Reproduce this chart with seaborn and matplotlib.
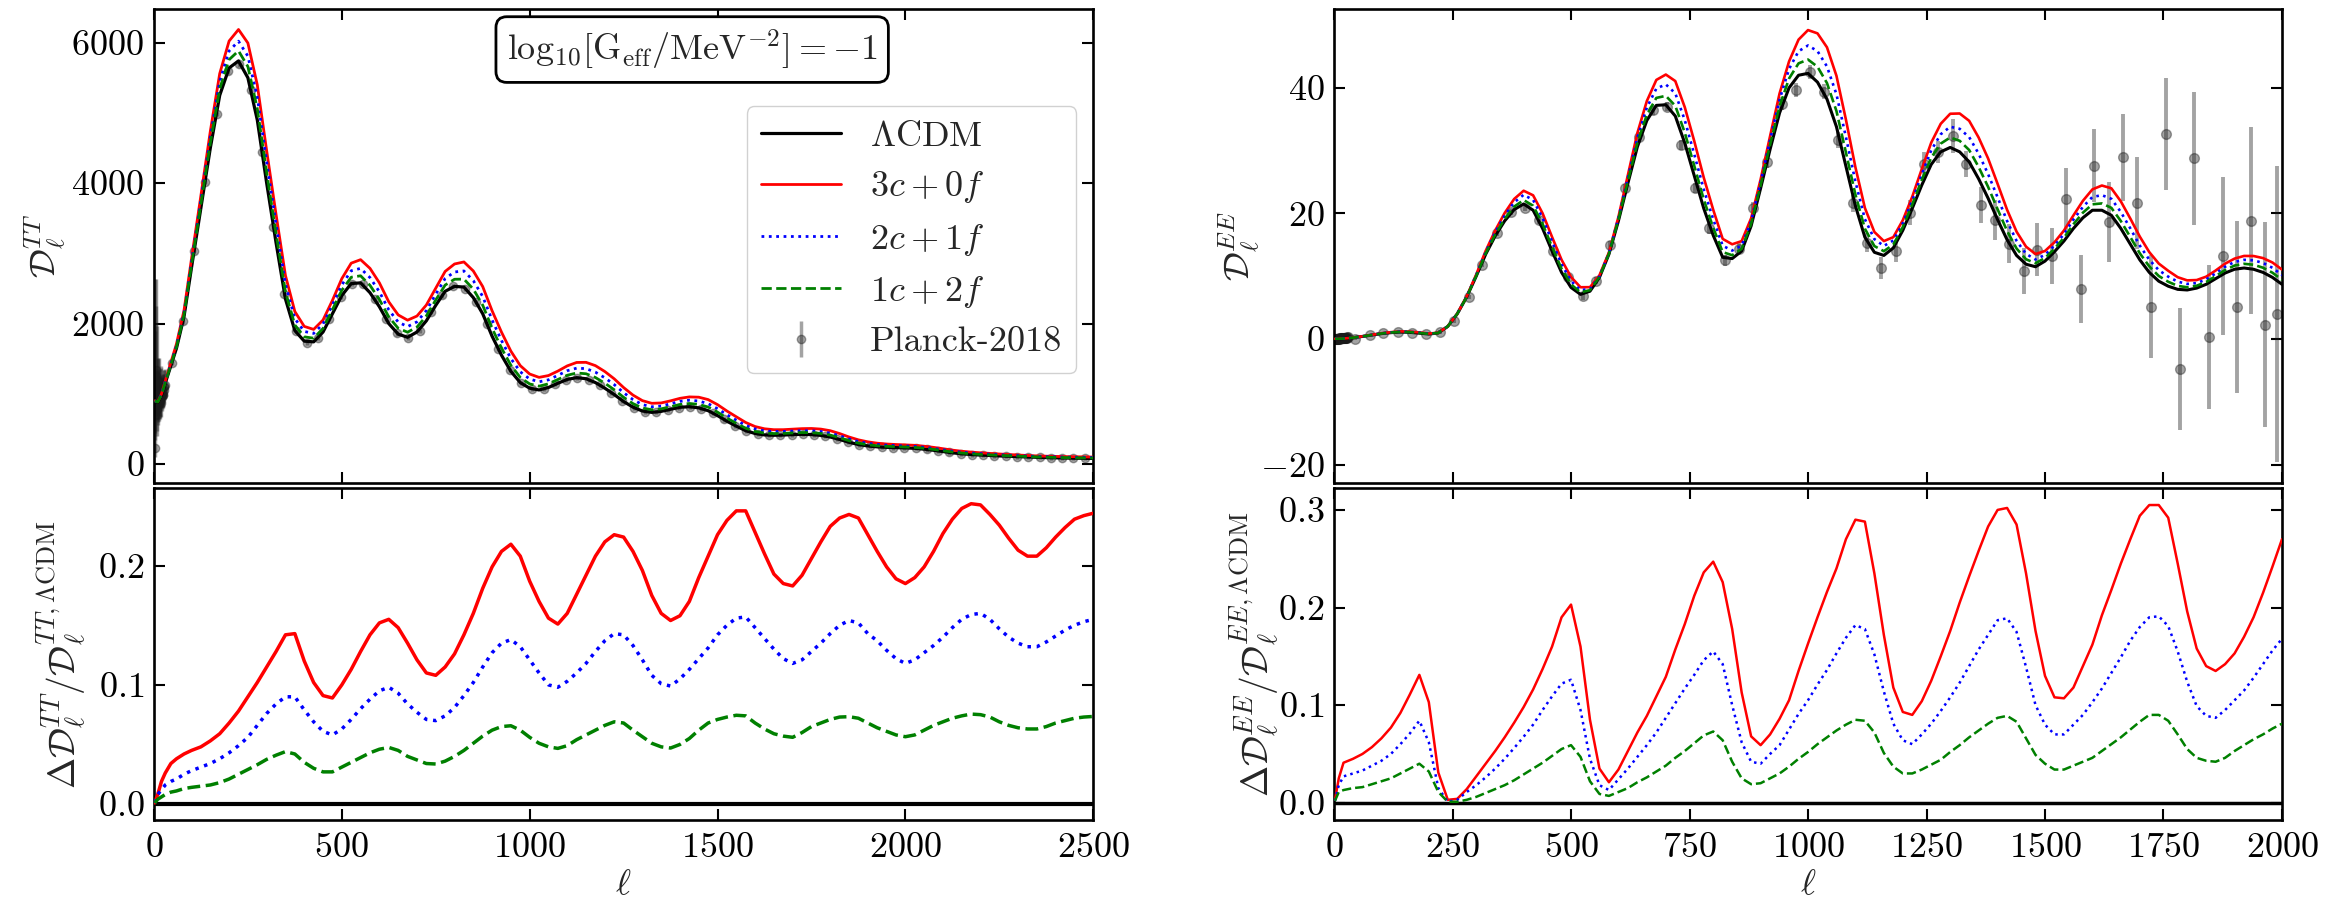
import numpy as np
import matplotlib
matplotlib.use("Agg")
import matplotlib.pyplot as plt
import seaborn as sns

# ---------------- TT spectrum (multipole grid) ----------------
tt_ell = [2, 10, 20, 30, 45, 60, 80,
          100, 125, 150, 175, 200, 225, 250, 275, 300, 325, 350, 375, 400, 425, 450, 475,
          500, 525, 550, 575, 600, 625, 650, 675, 700, 725, 750, 775, 800, 825, 850, 875, 900, 925, 950, 975,
          1000, 1025, 1050, 1075, 1100, 1125, 1150, 1175, 1200, 1225, 1250, 1275, 1300, 1325, 1350, 1375, 1400, 1425, 1450, 1475,
          1500, 1525, 1550, 1575, 1600, 1625, 1650, 1675, 1700, 1725, 1750, 1775, 1800, 1825, 1850, 1875, 1900, 1925, 1950, 1975,
          2000, 2025, 2050, 2075, 2100, 2125, 2150, 2175, 2200, 2225, 2250, 2275, 2300, 2325, 2350, 2375, 2400, 2425, 2450, 2475,
          2500]

tt_lcdm = [900, 880, 980, 1150, 1400, 1650, 2100,
           2800, 3650, 4500, 5250, 5640, 5740, 5500, 4900, 4000, 3150, 2350, 1900, 1750, 1740, 1880, 2140,
           2400, 2570, 2580, 2440, 2240, 2000, 1850, 1805, 1880, 2040, 2260, 2460, 2530, 2520, 2370, 2140, 1820, 1550, 1320, 1160,
           1080, 1055, 1090, 1150, 1205, 1230, 1215, 1160, 1080, 990, 890, 810, 755, 736, 750, 780, 808, 817, 800, 760,
           690, 610, 540, 475, 435, 415, 410, 413, 420, 423, 420, 408, 385, 350, 310, 278, 258, 245, 238, 234,
           230, 224, 212, 196, 178, 160, 146, 136, 128, 122, 116, 111, 106, 101, 96, 92, 89, 86, 84, 82,
           80]

# relative difference w.r.t. LCDM (lower left panel)
tt_rel_3c0f = [.001, .008, .019, .026, .034, .038, .042,
               .045, .048, .053, .059, .068, .078, .090, .102, .115, .128, .142, .143, .120, .102, .091, .089,
               .100, .113, .128, .142, .152, .155, .148, .135, .121, .110, .108, .115, .126, .142, .160, .181, .199, .212, .218, .208,
               .187, .170, .156, .151, .160, .176, .192, .208, .220, .226, .224, .212, .196, .175, .160, .154, .158, .170, .190, .208,
               .226, .238, .246, .246, .228, .210, .193, .185, .183, .192, .206, .220, .233, .240, .243, .240, .226, .212, .199, .189,
               .185, .190, .199, .212, .227, .239, .248, .252, .251, .243, .234, .223, .213, .208, .208, .215, .224, .232, .239, .242,
               .244]
tt_rel_2c1f = [.001, .008, .012, .016, .019, .021, .025,
               .028, .031, .034, .038, .043, .049, .056, .066, .076, .084, .090, .090, .079, .069, .061, .058,
               .063, .071, .080, .088, .095, .098, .093, .084, .077, .071, .070, .074, .081, .091, .102, .115, .127, .135, .138, .132,
               .121, .110, .100, .098, .103, .110, .118, .128, .137, .143, .142, .133, .121, .108, .101, .099, .105, .113, .122, .131,
               .142, .150, .156, .157, .148, .139, .130, .122, .118, .121, .128, .135, .143, .150, .154, .152, .143, .137, .129, .122,
               .118, .121, .127, .133, .140, .148, .155, .159, .160, .155, .147, .140, .135, .132, .132, .136, .141, .146, .150, .153,
               .155]
tt_rel_1c2f = [.001, .004, .006, .008, .010, .011, .013,
               .014, .015, .016, .018, .021, .025, .029, .033, .0375, .041, .044, .042, .035, .030, .027, .027,
               .031, .035, .039, .043, .046, .0475, .045, .040, .037, .034, .0336, .036, .040, .045, .051, .057, .062, .065, .0657, .062,
               .056, .051, .048, .0467, .049, .054, .058, .062, .066, .069, .068, .062, .0565, .051, .048, .047, .050, .055, .062, .068,
               .071, .073, .0745, .074, .068, .063, .059, .057, .056, .060, .065, .068, .071, .073, .0733, .072, .068, .064, .061, .058,
               .0565, .058, .062, .066, .069, .072, .074, .0755, .075, .073, .069, .066, .064, .063, .063, .065, .068, .070, .072, .073,
               .0735]

# Planck-2018 TT: unbinned low-l and binned high-l points
tt_low_ell = [2, 3, 4, 5, 6, 7, 8, 9, 10, 11, 12, 13, 14, 15, 16, 17, 18, 19, 20, 21, 22, 23, 24, 25, 26, 27, 28, 29]
tt_low_val = [226, 937, 693, 1336, 1250, 1120, 700, 790, 950, 860, 1020, 880, 1080, 880, 980, 920, 1050, 870, 1060, 990,
              950, 980, 1030, 980, 1100, 1050, 1110, 1130]
tt_low_lo = [130, 500, 350, 650, 550, 480, 300, 320, 350, 300, 320, 270, 300, 240, 250, 230, 240, 200, 220, 200,
             190, 185, 180, 170, 175, 165, 160, 160]
tt_low_hi = [1100, 1700, 1200, 1300, 1000, 850, 600, 560, 560, 480, 470, 420, 430, 360, 370, 340, 340, 290, 310, 280,
             270, 260, 255, 240, 245, 230, 225, 225]

tt_bin_ell = [47, 77, 107, 137, 167, 197, 227, 257, 287, 317, 347, 377, 407, 437, 467, 497, 527, 557, 587, 617,
              647, 677, 707, 737, 767, 797, 827, 857, 887, 917, 947, 977, 1007, 1037, 1067, 1097, 1127, 1157, 1187, 1217,
              1247, 1277, 1307, 1337, 1367, 1397, 1427, 1457, 1487, 1517, 1547, 1577, 1607, 1637, 1667, 1697, 1727, 1757, 1787, 1817,
              1847, 1877, 1907, 1937, 1967, 1997, 2027, 2057, 2087, 2117, 2147, 2177, 2207, 2237, 2267, 2297, 2327, 2357, 2387, 2417,
              2447, 2477]
tt_bin_val = [1440, 2030, 3030, 4020, 4990, 5590, 5690, 5320, 4450, 3380, 2420, 1890, 1720, 1800, 2060, 2380, 2570, 2560, 2350, 2060,
              1860, 1800, 1900, 2170, 2400, 2530, 2490, 2310, 2000, 1640, 1340, 1150, 1065, 1070, 1140, 1200, 1230, 1200, 1120, 1010,
              900, 805, 748, 740, 770, 805, 815, 790, 725, 635, 545, 470, 430, 412, 412, 420, 423, 418, 398, 360,
              315, 276, 255, 241, 235, 230, 223, 208, 187, 165, 147, 135, 126, 119, 112, 106, 100, 95, 90, 87,
              84, 82]
tt_bin_err = 30

# ---------------- EE spectrum ----------------
ee_ell = [2, 10, 20,
          40, 60, 80, 100, 120, 140, 160, 180, 200, 220,
          240, 260, 280, 300, 320, 340, 360, 380, 400, 420,
          440, 460, 480, 500, 520, 540, 560, 580, 600, 620,
          640, 660, 680, 700, 720, 740, 760, 780, 800, 820,
          840, 860, 880, 900, 920, 940, 960, 980, 1000, 1020,
          1040, 1060, 1080, 1100, 1120, 1140, 1160, 1180, 1200, 1220,
          1240, 1260, 1280, 1300, 1320, 1340, 1360, 1380, 1400, 1420,
          1440, 1460, 1480, 1500, 1520, 1540, 1560, 1580, 1600, 1620,
          1640, 1660, 1680, 1700, 1720, 1740, 1760, 1780, 1800, 1820,
          1840, 1860, 1880, 1900, 1920, 1940, 1960, 1980, 2000]

ee_lcdm = [0.03, 0.03, 0.06,
           0.2, 0.4, 0.62, 0.85, 1.0, 1.1, 1.05, 0.92, 0.78, 0.95,
           2.0, 4.0, 6.7, 10.0, 13.5, 16.4, 18.8, 20.6, 21.5, 20.5,
           17.6, 14.0, 10.6, 8.2, 7.1, 7.6, 9.8, 13.5, 18.8, 24.8,
           30.6, 34.8, 37.2, 37.3, 35.5, 31.2, 26.0, 20.8, 16.5, 13.0,
           12.8, 14.0, 18.0, 24.0, 30.2, 36.0, 40.0, 42.0, 42.3, 40.9,
           38.2, 33.8, 27.5, 21.2, 16.2, 13.8, 13.3, 14.5, 17.3, 20.8,
           24.5, 27.8, 29.8, 30.5, 29.8, 28.2, 25.5, 22.4, 19.0, 15.8,
           13.3, 11.9, 11.5, 12.4, 13.9, 15.6, 17.6, 19.3, 20.5, 20.5,
           19.7, 17.6, 15.1, 12.6, 10.6, 9.2, 8.4, 7.9, 7.8, 8.1,
           8.7, 9.6, 10.5, 11.1, 11.3, 11.1, 10.6, 9.8, 8.7]

ee_rel_3c0f = [.003, .025, .041,
               .045, .050, .057, .066, .077, .092, .111, .131, .103, .031,
               .003, .004, .014, .027, .040, .053, .067, .082, .098, .116,
               .137, .160, .190, .203, .160, .085, .035, .021, .034, .053,
               .072, .089, .109, .129, .157, .183, .212, .236, .247, .226,
               .178, .113, .068, .059, .070, .086, .105, .135, .163, .190,
               .216, .240, .270, .290, .288, .235, .172, .118, .093, .090,
               .104, .125, .150, .176, .205, .232, .258, .283, .300, .302,
               .285, .235, .176, .130, .108, .107, .118, .140, .162, .192,
               .218, .245, .270, .294, .305, .305, .292, .245, .196, .158,
               .140, .135, .142, .153, .170, .190, .215, .242, .270]
ee_rel_2c1f = [.002, .018, .027,
               .030, .033, .038, .043, .050, .060, .071, .084, .062, .015,
               .001, .003, .011, .018, .026, .035, .045, .056, .0676, .080,
               .095, .109, .122, .126, .095, .045, .018, .013, .024, .035,
               .047, .059, .072, .087, .102, .117, .131, .146, .155, .142,
               .100, .062, .042, .040, .050, .059, .075, .091, .105, .121,
               .136, .153, .169, .182, .178, .152, .114, .081, .064, .060,
               .070, .081, .094, .108, .123, .140, .157, .172, .187, .189,
               .175, .139, .100, .080, .070, .070, .080, .090, .103, .117,
               .133, .149, .166, .180, .190, .191, .181, .155, .124, .099,
               .089, .087, .095, .105, .115, .128, .142, .156, .168]
ee_rel_1c2f = [.002, .011, .013,
               .015, .016, .019, .022, .025, .030, .035, .040, .032, .011,
               .001, .001, .003, .006, .010, .014, .018, .023, .029, .035,
               .041, .048, .055, .059, .047, .022, .009, .007, .011, .015,
               .021, .026, .032, .038, .046, .053, .061, .069, .073, .064,
               .042, .025, .019, .020, .025, .030, .037, .045, .052, .060,
               .067, .074, .080, .085, .084, .072, .051, .037, .030, .030,
               .034, .039, .044, .052, .059, .067, .074, .081, .087, .089,
               .083, .066, .049, .040, .034, .034, .038, .042, .046, .053,
               .060, .067, .075, .083, .090, .090, .084, .070, .055, .046,
               .043, .042, .046, .053, .059, .065, .070, .076, .081]

# Planck-2018 EE
ee_low_ell = [2, 3, 4, 5, 6, 7, 8, 9, 10, 11, 12, 13, 14, 15, 16, 17, 18, 19, 20, 21, 22, 23, 24, 25, 26, 27, 28, 29]
ee_low_val = [0.03, 0.01, 0.02, 0.05, 0.0, 0.04, 0.02, 0.06, 0.03, 0.08, 0.1, 0.05, 0.12, 0.08, 0.1, 0.15, 0.12, 0.1,
              0.18, 0.15, 0.2, 0.12, 0.2, 0.18, 0.22, 0.25, 0.2, 0.28]
ee_low_err = [0.05, 0.05, 0.05, 0.06, 0.06, 0.07, 0.08, 0.09, 0.1, 0.1, 0.12, 0.12, 0.14, 0.14, 0.15, 0.16, 0.17, 0.18,
              0.2, 0.2, 0.22, 0.22, 0.24, 0.25, 0.26, 0.27, 0.28, 0.3]

ee_bin_ell = [44, 75, 104, 134, 164, 194, 224, 253, 284, 313, 344, 374, 403, 433, 463, 493, 525, 553, 583, 613,
              643, 673, 703, 731, 761, 792, 824, 854, 884, 914, 946, 975, 1004, 1034, 1064, 1094, 1124, 1154, 1185, 1215,
              1245, 1275, 1305, 1334, 1365, 1395, 1425, 1455, 1484, 1515, 1544, 1575, 1604, 1634, 1665, 1694, 1724, 1755, 1785, 1815,
              1845, 1875, 1905, 1935, 1965, 1989]
ee_bin_val = [0.0, 0.6, 1.0, 1.1, 1.0, 0.85, 1.1, 2.9, 6.7, 11.8, 16.9, 20.2, 20.9, 18.9, 14.0, 9.8, 6.8, 9.3, 15.0, 24.1,
              32.2, 36.4, 37.0, 30.9, 24.0, 17.6, 12.5, 14.4, 20.8, 28.2, 37.5, 39.6, 42.5, 39.4, 31.7, 21.6, 15.3, 11.3, 14.0, 20.1,
              27.8, 29.8, 32.3, 27.9, 21.3, 18.9, 15.2, 10.8, 14.2, 13.2, 22.3, 8.0, 27.6, 18.6, 28.9, 21.6, 5.1, 32.6, -4.8, 28.8,
              0.3, 13.2, 5.1, 18.8, 2.3, 4.0]
ee_bin_err = [0.15, 0.15, 0.15, 0.15, 0.15, 0.2, 0.25, 0.3, 0.35, 0.4, 0.45, 0.5, 0.55, 0.55, 0.55, 0.55, 0.55, 0.6, 0.6, 0.65,
              0.7, 0.7, 0.75, 0.8, 0.8, 0.85, 0.9, 0.9, 0.95, 1.0, 1.05, 1.1, 1.15, 1.2, 1.3, 1.4, 1.5, 1.7, 1.8, 2.0,
              2.0, 1.7, 2.7, 2.1, 2.9, 3.2, 3.1, 3.7, 4.2, 4.5, 4.9, 5.4, 5.8, 6.4, 7.0, 7.3, 8.2, 8.9, 9.7, 10.6,
              11.5, 12.6, 13.7, 14.9, 16.3, 23.6]

assert len(tt_ell) == len(tt_lcdm) == len(tt_rel_3c0f) == len(tt_rel_2c1f) == len(tt_rel_1c2f)
assert len(ee_ell) == len(ee_lcdm) == len(ee_rel_3c0f) == len(ee_rel_2c1f) == len(ee_rel_1c2f)
assert len(tt_bin_ell) == len(tt_bin_val) and len(ee_bin_ell) == len(ee_bin_val) == len(ee_bin_err)

# models in the upper panels follow from D = D_LCDM * (1 + Delta D / D)
tt_models = {k: np.array(tt_lcdm) * (1 + np.array(v)) for k, v in
             [("3c0f", tt_rel_3c0f), ("2c1f", tt_rel_2c1f), ("1c2f", tt_rel_1c2f)]}
ee_models = {k: np.array(ee_lcdm) * (1 + np.array(v)) for k, v in
             [("3c0f", ee_rel_3c0f), ("2c1f", ee_rel_2c1f), ("1c2f", ee_rel_1c2f)]}

labels = {"3c0f": r"$3c+0f$", "2c1f": r"$2c+1f$", "1c2f": r"$1c+2f$"}
colors = {"3c0f": "red", "2c1f": "blue", "1c2f": "green"}
styles = {"3c0f": "-", "2c1f": ":", "1c2f": "--"}

sns.set_theme(style="ticks")
plt.rcParams.update({
    "font.family": "serif",
    "font.serif": ["cmr10"],
    "mathtext.fontset": "cm",
    "axes.formatter.use_mathtext": True,
    "font.size": 26,
    "axes.labelsize": 26,
    "xtick.labelsize": 26,
    "ytick.labelsize": 26,
    "legend.fontsize": 26,
    "axes.linewidth": 1.9,
    "axes.edgecolor": "black",
    "xtick.direction": "in",
    "ytick.direction": "in",
    "xtick.top": True,
    "ytick.right": True,
    "xtick.major.size": 8,
    "ytick.major.size": 8,
    "xtick.major.width": 1.5,
    "ytick.major.width": 1.5,
    "xtick.major.pad": 9,
    "ytick.major.pad": 7,
    "xtick.color": "black",
    "ytick.color": "black",
})

fig = plt.figure(figsize=(23.47, 9.05), dpi=100)
ax_tt = fig.add_axes([0.0656, 0.4666, 0.4002, 0.5231])
ax_tt_r = fig.add_axes([0.0656, 0.0939, 0.4002, 0.3665])
ax_ee = fig.add_axes([0.5684, 0.4666, 0.4039, 0.5231])
ax_ee_r = fig.add_axes([0.5684, 0.0939, 0.4039, 0.3665])

# ---- TT upper ----
ax_tt.errorbar(tt_bin_ell, tt_bin_val, yerr=tt_bin_err, fmt="o", color="k", alpha=0.4,
               ms=6, elinewidth=2.5, capsize=0, zorder=1, label="Planck-2018")
ax_tt.errorbar(tt_low_ell, tt_low_val, yerr=[tt_low_lo, tt_low_hi], fmt="o", color="k", alpha=0.4,
               ms=6, elinewidth=2.5, capsize=0, zorder=1)
sns.lineplot(x=tt_ell, y=tt_lcdm, ax=ax_tt, color="black", lw=2.3, estimator=None, sort=False,
             label=r"$\Lambda$CDM", zorder=3)
for key in ["3c0f", "2c1f", "1c2f"]:
    sns.lineplot(x=tt_ell, y=tt_models[key], ax=ax_tt, color=colors[key], lw=2.0, linestyle=styles[key],
                 estimator=None, sort=False, label=labels[key], zorder=3)

handles, labs = ax_tt.get_legend_handles_labels()
order = [labs.index(l) for l in [r"$\Lambda$CDM", r"$3c+0f$", r"$2c+1f$", r"$1c+2f$", "Planck-2018"]]
ax_tt.legend([handles[i] for i in order], [labs[i] for i in order], loc="upper right",
             bbox_to_anchor=(0.982, 0.795), borderaxespad=0, frameon=True, fancybox=True,
             edgecolor="0.8", framealpha=0.9, handlelength=2.2, labelspacing=0.45)
ax_tt.text(0.573, 0.915, r"$\mathrm{log}_{10}[\mathrm{G_{eff}}/\mathrm{MeV}^{-2}]=-1$", transform=ax_tt.transAxes,
           ha="center", va="center", fontsize=26,
           bbox=dict(boxstyle="round,pad=0.3", fc="white", ec="black", lw=2))
ax_tt.set_xlim(0, 2500)
ax_tt.set_ylim(-266, 6475)
ax_tt.set_yticks([0, 2000, 4000, 6000])
ax_tt.set_xticks([0, 500, 1000, 1500, 2000, 2500])
ax_tt.tick_params(labelbottom=False)
ax_tt.set_xlabel("")
ax_tt.set_ylabel(r"$\mathcal{D}_\ell^{TT}$")
ax_tt.yaxis.set_label_coords(-0.092, 0.5)

# ---- TT lower ----
ax_tt_r.axhline(0, color="black", lw=3.0, zorder=2)
for key, rel in [("3c0f", tt_rel_3c0f), ("2c1f", tt_rel_2c1f), ("1c2f", tt_rel_1c2f)]:
    sns.lineplot(x=tt_ell, y=rel, ax=ax_tt_r, color=colors[key], lw=2.5, linestyle=styles[key],
                 estimator=None, sort=False, legend=False, zorder=3)
ax_tt_r.set_xlim(0, 2500)
ax_tt_r.set_ylim(-0.0134, 0.2649)
ax_tt_r.set_xticks([0, 500, 1000, 1500, 2000, 2500])
ax_tt_r.set_yticks([0.0, 0.1, 0.2])
ax_tt_r.set_xlabel(r"$\ell$")
ax_tt_r.set_ylabel(r"$\Delta\mathcal{D}_\ell^{TT}/\mathcal{D}_\ell^{TT,\Lambda\mathrm{CDM}}$", fontsize=27)
ax_tt_r.yaxis.set_label_coords(-0.070, 0.5)

# ---- EE upper ----
ax_ee.errorbar(ee_bin_ell, ee_bin_val, yerr=ee_bin_err, fmt="o", color="k", alpha=0.4,
               ms=7, elinewidth=2.8, capsize=0, zorder=1)
ax_ee.errorbar(ee_low_ell, ee_low_val, yerr=ee_low_err, fmt="o", color="k", alpha=0.4,
               ms=7, elinewidth=2.8, capsize=0, zorder=1)
sns.lineplot(x=ee_ell, y=ee_lcdm, ax=ax_ee, color="black", lw=2.2, estimator=None, sort=False,
             legend=False, zorder=3)
for key in ["3c0f", "2c1f", "1c2f"]:
    sns.lineplot(x=ee_ell, y=ee_models[key], ax=ax_ee, color=colors[key], lw=1.9, linestyle=styles[key],
                 estimator=None, sort=False, legend=False, zorder=3)
ax_ee.set_xlim(0, 2000)
ax_ee.set_ylim(-22.9, 52.5)
ax_ee.set_yticks([-20, 0, 20, 40])
ax_ee.set_xticks([0, 250, 500, 750, 1000, 1250, 1500, 1750, 2000])
ax_ee.tick_params(labelbottom=False)
ax_ee.set_xlabel("")
ax_ee.set_ylabel(r"$\mathcal{D}_\ell^{EE}$")
ax_ee.yaxis.set_label_coords(-0.076, 0.5)

# ---- EE lower ----
ax_ee_r.axhline(0, color="black", lw=2.5, zorder=2)
for key, rel in [("3c0f", ee_rel_3c0f), ("2c1f", ee_rel_2c1f), ("1c2f", ee_rel_1c2f)]:
    sns.lineplot(x=ee_ell, y=rel, ax=ax_ee_r, color=colors[key], lw=1.8, linestyle=styles[key],
                 estimator=None, sort=False, legend=False, zorder=3)
ax_ee_r.set_xlim(0, 2000)
ax_ee_r.set_ylim(-0.0177, 0.3221)
ax_ee_r.set_xticks([0, 250, 500, 750, 1000, 1250, 1500, 1750, 2000])
ax_ee_r.set_yticks([0.0, 0.1, 0.2, 0.3])
ax_ee_r.set_xlabel(r"$\ell$")
ax_ee_r.set_ylabel(r"$\Delta\mathcal{D}_\ell^{EE}/\mathcal{D}_\ell^{EE,\Lambda\mathrm{CDM}}$", fontsize=27)
ax_ee_r.yaxis.set_label_coords(-0.056, 0.5)

fig.savefig("out.png", dpi=100)
